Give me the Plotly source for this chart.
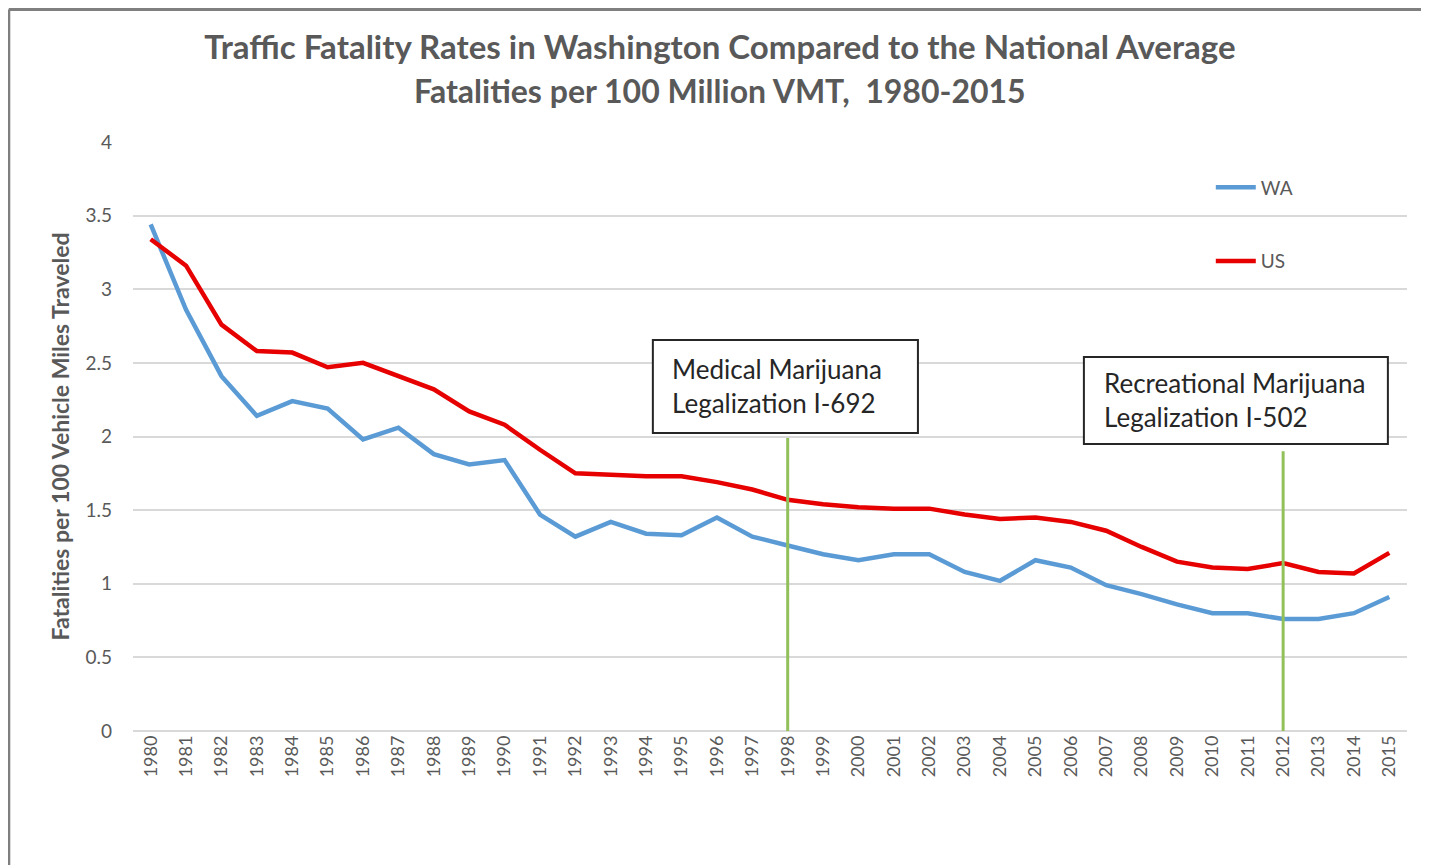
import plotly.graph_objects as go

# Fatalities per 100 million VMT
years = [str(y) for y in range(1980, 2016)]
wa_rates = [
    3.44, 2.86, 2.41, 2.14, 2.24, 2.19, 1.98, 2.06, 1.88, 1.81,
    1.84, 1.47, 1.32, 1.42, 1.34, 1.33, 1.45, 1.32, 1.26, 1.20,
    1.16, 1.20, 1.20, 1.08, 1.02, 1.16, 1.11, 0.99, 0.93, 0.86,
    0.80, 0.80, 0.76, 0.76, 0.80, 0.91,
]
us_rates = [
    3.34, 3.16, 2.76, 2.58, 2.57, 2.47, 2.50, 2.41, 2.32, 2.17,
    2.08, 1.91, 1.75, 1.74, 1.73, 1.73, 1.69, 1.64, 1.57, 1.54,
    1.52, 1.51, 1.51, 1.47, 1.44, 1.45, 1.42, 1.36, 1.25, 1.15,
    1.11, 1.10, 1.14, 1.08, 1.07, 1.21,
]
event_years = ["1998", "2012"]
event_labels = [
    "Medical Marijuana<br>Legalization I-692",
    "Recreational Marijuana<br>Legalization I-502",
]

GRAY = "#595959"
FONT = "Lato"

fig = go.Figure()
fig.add_trace(go.Scatter(
    x=years, y=wa_rates, name="WA", mode="lines", legendgroup="wa",
    line=dict(color="#5b9bd5", width=4.5),
))
fig.add_trace(go.Scatter(
    x=years, y=us_rates, name="US", mode="lines", legendgroup="us",
    line=dict(color="#e60000", width=4.5),
))

# green marker lines for the two legalization years
# (shapes on a category axis take the category index)
line_tops = [1.99, 1.90]
for yr, top in zip(event_years, line_tops):
    idx = years.index(yr)
    fig.add_shape(
        type="line", xref="x", yref="y", x0=idx, x1=idx, y0=0, y1=top,
        line=dict(color="#92c05a", width=3), layer="above",
    )

# text boxes: rectangle (x0, x1, y0, y1) and text anchor (left x, mid y)
boxes = [(14.19, 21.68, 2.024, 2.655), (26.37, 34.96, 1.949, 2.54)]
text_anchor = [(14.67, 2.343), (26.88, 2.248)]
for text, (x0, x1, y0, y1), (tx, ty) in zip(event_labels, boxes, text_anchor):
    fig.add_shape(
        type="rect", xref="x", yref="y", x0=x0, x1=x1, y0=y0, y1=y1,
        line=dict(color="#262626", width=2), fillcolor="white", layer="above",
    )
    fig.add_annotation(
        x=tx, y=ty, xref="x", yref="y", text=text, showarrow=False,
        xanchor="left", yanchor="middle", align="left",
        font=dict(family=FONT, size=26, color="#262626"),
    )

# outer frame, only top and left edges visible in the reference
frame = dict(color="#7f7f7f", width=3)
fig.add_shape(type="line", xref="paper", yref="paper",
              x0=-0.0975, x1=1.05, y0=1.2249, y1=1.2249, line=frame)
fig.add_shape(type="line", xref="paper", yref="paper",
              x0=-0.0975, x1=-0.0975, y0=1.2249, y1=-0.25, line=frame)

fig.add_annotation(
    text="Fatalities per 100 Million VMT,  1980-2015",
    xref="paper", yref="paper", x=0.4607, y=1.0866,
    xanchor="center", yanchor="middle", showarrow=False,
    font=dict(family=FONT, size=32, color=GRAY, weight="bold"),
)

fig.update_layout(
    width=1421, height=857,
    margin=dict(l=125, r=22, t=134, b=134),
    paper_bgcolor="white", plot_bgcolor="white",
    title=dict(
        text="Traffic Fatality Rates in Washington Compared to the National Average",
        x=0.501, xanchor="center", y=0.9545, yanchor="middle",
        font=dict(family=FONT, size=33, color=GRAY, weight="bold"),
    ),
    legend=dict(
        x=0.846, y=0.955, xanchor="left", yanchor="top",
        tracegroupgap=46, traceorder="grouped",
        font=dict(family=FONT, size=19, color=GRAY),
        bgcolor="rgba(0,0,0,0)", itemwidth=40,
    ),
    showlegend=True,
)

fig.update_xaxes(
    type="category", tickangle=-90, showgrid=False, showline=False,
    ticks="", tickfont=dict(family=FONT, size=18, color=GRAY),
    range=[-0.5, len(years) - 0.5],
)
fig.update_yaxes(
    range=[0, 4], tickvals=[0, 0.5, 1, 1.5, 2, 2.5, 3, 3.5, 4],
    ticktext=["0", "0.5", "1", "1.5", "2", "2.5", "3", "3.5", "4"],
    showgrid=True, gridcolor="#d9d9d9", gridwidth=1.5,
    zeroline=True, zerolinecolor="#d9d9d9", zerolinewidth=1.5,
    ticks="", ticklabelstandoff=20,
    tickfont=dict(family=FONT, size=19, color=GRAY),
    title=dict(
        text="Fatalities per 100 Vehicle Miles Traveled", standoff=9,
        font=dict(family=FONT, size=23, color=GRAY, weight="bold"),
    ),
)

fig.write_html("out.html")
